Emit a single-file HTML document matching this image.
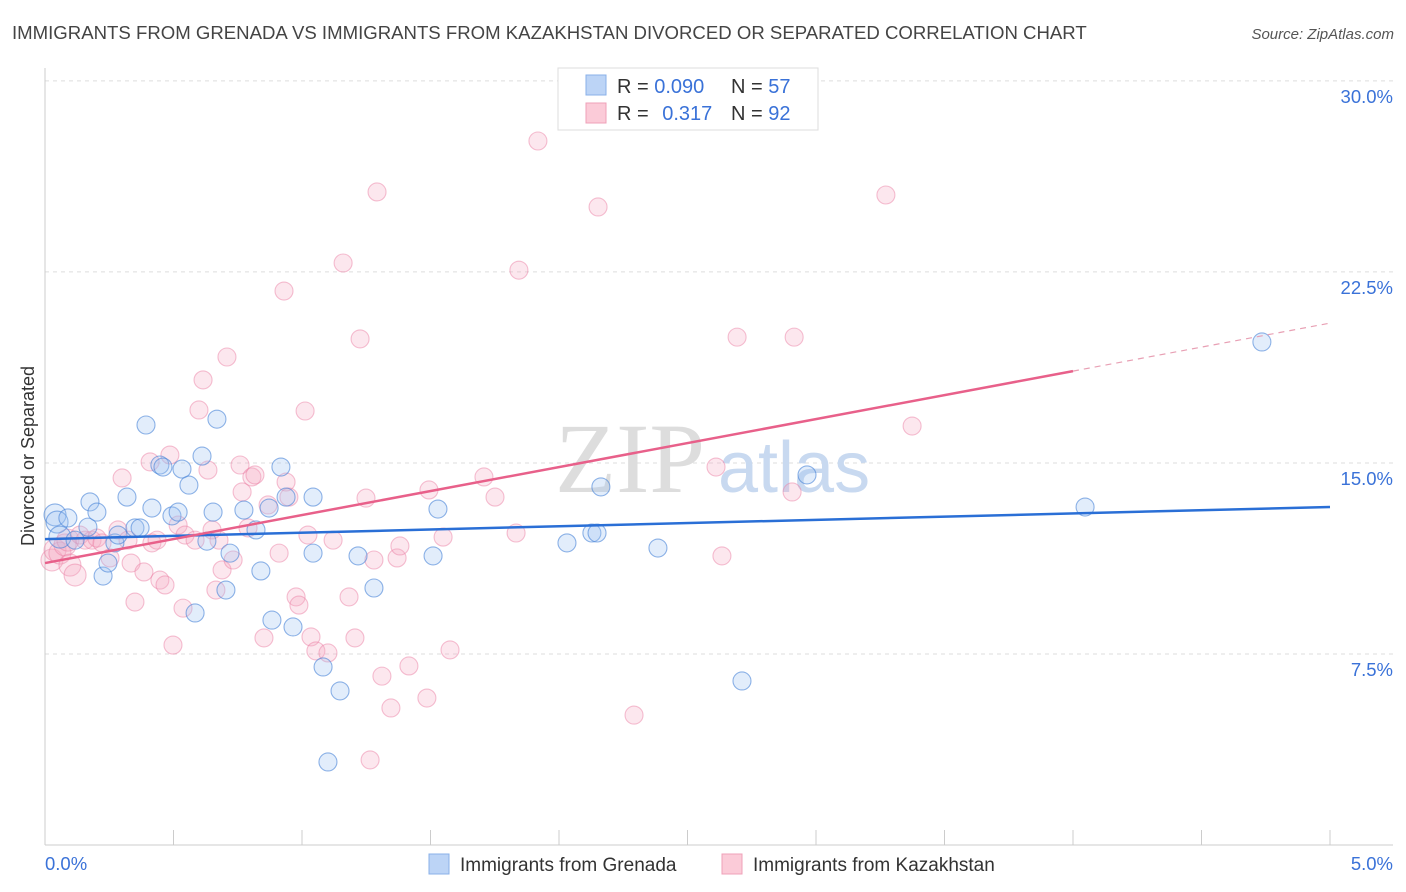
<!DOCTYPE html>
<html><head><meta charset="utf-8">
<style>
body{margin:0;background:#fff;font-family:"Liberation Sans",sans-serif;}
svg{display:block}
</style></head>
<body>
<svg id="chart" width="1406" height="892" xmlns="http://www.w3.org/2000/svg">
<text x="12" y="39" font-size="18.6" fill="#444">IMMIGRANTS FROM GRENADA VS IMMIGRANTS FROM KAZAKHSTAN DIVORCED OR SEPARATED CORRELATION CHART</text>
<text x="1394" y="39" font-size="15" fill="#555" font-style="italic" text-anchor="end">Source: ZipAtlas.com</text>
<g id="grid"></g>
<text x="555" y="492" font-size="100" font-family="Liberation Serif,serif" fill="#ddd">ZIP</text>
<text x="718" y="492" font-size="72" fill="#c8d9f0">atlas</text>
<line x1="45" y1="68" x2="45" y2="845" stroke="#ccc"/>
<line x1="45" y1="845" x2="1393" y2="845" stroke="#ccc"/>
<g id="xticks"></g>
<g id="pts"></g>
<g id="trends"></g>
<text transform="translate(34,456) rotate(-90)" font-size="18" fill="#333" text-anchor="middle">Divorced or Separated</text>
<text x="45" y="870" font-size="18.5" fill="#3a72d8">0.0%</text>
<text x="1393" y="870" font-size="18.5" fill="#3a72d8" text-anchor="end">5.0%</text>
<g>
<rect x="558" y="68" width="260" height="62" fill="#fff" stroke="#ddd"/>
<rect x="586" y="75" width="20" height="20" fill="#bcd4f6" stroke="#8ab0e8"/>
<rect x="586" y="103" width="20" height="20" fill="#fbcbd8" stroke="#efa0b8"/>
<text x="617" y="93" font-size="20" fill="#333">R = <tspan fill="#3a72d8">0.090</tspan></text>
<text x="731" y="93" font-size="20" fill="#333">N = <tspan fill="#3a72d8">57</tspan></text>
<text x="617" y="120" font-size="20" fill="#333">R = <tspan fill="#3a72d8" dx="8">0.317</tspan></text>
<text x="731" y="120" font-size="20" fill="#333">N = <tspan fill="#3a72d8">92</tspan></text>
</g>
<g>
<rect x="429" y="854" width="20" height="20" fill="#bcd4f6" stroke="#8ab0e8"/>
<text x="460" y="871" font-size="19" fill="#333">Immigrants from Grenada</text>
<rect x="722" y="854" width="20" height="20" fill="#fbcbd8" stroke="#efa0b8"/>
<text x="753" y="871" font-size="19" fill="#333">Immigrants from Kazakhstan</text>
</g>
</svg>
<script>
const yTicks=[7.5,15,22.5,30];
const yTickLabels=["7.5%","15.0%","22.5%","30.0%"];
const xTickVals=[0,0.5,1,1.5,2,2.5,3,3.5,4,4.5,5];
const grenadaX=[.039,.047,.089,.058,.117,.167,.175,.202,.226,.245,.272,.284,.319,.350,.370,.393,.416,.447,.459,.494,.518,.533,.560,.584,.611,.630,.654,.669,.704,.720,.774,.821,.840,.872,.883,.918,.938,.965,1.043,1.043,1.082,1.101,1.148,1.218,1.280,1.510,1.529,2.031,2.128,2.148,2.163,2.385,2.712,2.965,4.047,4.735];
const grenadaY=[12.96,12.68,12.84,12.09,11.97,12.48,13.47,13.07,10.56,11.07,11.86,12.17,13.66,12.45,12.45,16.49,13.23,14.92,14.84,12.92,13.07,14.76,14.13,9.11,15.27,11.93,13.07,16.72,10.01,11.46,13.15,12.37,10.76,13.23,8.83,14.84,13.66,8.56,13.66,11.46,6.99,3.26,6.05,11.35,10.09,11.35,13.19,11.86,12.25,12.25,14.06,11.66,6.44,14.53,13.27,19.75];
const kazX=[.027,.039,.058,.078,.097,.117,.089,.136,.156,.183,.202,.222,.253,.284,.300,.323,.335,.350,.385,.409,.416,.436,.447,.467,.486,.498,.518,.537,.545,.584,.599,.615,.634,.650,.665,.677,.689,.708,.732,.759,.767,.790,.805,.817,.852,.868,.911,.930,.938,.949,.977,.988,1.012,1.023,1.035,1.054,1.101,1.121,1.160,1.183,1.206,1.226,1.249,1.265,1.280,1.292,1.311,1.346,1.370,1.381,1.416,1.486,1.494,1.549,1.576,1.708,1.751,1.833,1.844,1.918,2.152,2.292,2.611,2.634,2.693,2.907,2.915,3.272,3.374];
const kazY=[11.19,11.58,11.46,11.78,10.99,10.60,11.97,12.17,11.97,11.97,12.05,11.86,11.27,12.37,14.41,11.97,11.07,9.54,10.72,15.04,11.86,11.97,10.40,10.21,15.31,7.85,12.56,9.30,12.17,11.97,17.08,18.26,14.72,12.37,10.01,11.97,10.80,19.16,11.19,14.92,13.86,12.45,14.45,14.53,8.13,13.35,11.46,21.75,14.25,13.66,9.74,9.42,17.04,12.17,8.17,7.62,7.54,11.97,22.85,9.74,8.13,19.87,13.62,3.34,11.19,25.64,6.63,5.38,11.27,11.74,7.03,5.77,13.94,12.09,7.66,14.45,13.66,12.25,22.57,27.64,25.05,5.10,14.84,11.35,19.94,13.86,19.94,25.52,16.45];
const grenadaTrend=[12.01,13.27];
const kazTrend=[11.07,20.49];
const kazSolidEnd=4.0;
const NS="http://www.w3.org/2000/svg";
const sx=v=>45+v/5*1285;
const sy=v=>845-v*25.47;
function mk(tag,attrs,parent){const e=document.createElementNS(NS,tag);for(const k in attrs)e.setAttribute(k,attrs[k]);parent.appendChild(e);return e;}
const grid=document.getElementById('grid');
yTicks.forEach((t,i)=>{
  const l=mk('line',{x1:45,x2:1393,y1:sy(t),y2:sy(t),stroke:'#ddd','stroke-dasharray':'4 4'},grid);
  
  
  const tx=mk('text',{x:1393,y:sy(t)+22,'font-size':18.5,fill:'#3a72d8','text-anchor':'end'},grid);
  tx.textContent=yTickLabels[i];
  
  
});
const xt=document.getElementById('xticks');
xTickVals.forEach(v=>{
  const l=mk('line',{x1:sx(v),x2:sx(v),y1:830,y2:845,stroke:'#ccc'},xt);
  
  
});
const pts=document.getElementById('pts');
kazX.forEach((x,i)=>{
  const c=mk('circle',{cx:sx(x),cy:sy(kazY[i]),r:(x<0.12?11:9),fill:'rgba(246,170,194,0.28)',stroke:'rgba(236,130,165,0.5)','stroke-width':1.1},pts);
  
  
});
grenadaX.forEach((x,i)=>{
  const c=mk('circle',{cx:sx(x),cy:sy(grenadaY[i]),r:(x<0.06?11:9),fill:'rgba(160,196,242,0.3)',stroke:'rgba(70,130,215,0.6)','stroke-width':1.1},pts);
  
  
});
const tr=document.getElementById('trends');
const b=mk('line',{x1:sx(0),y1:sy(grenadaTrend[0]),x2:sx(5),y2:sy(grenadaTrend[1]),stroke:'#2a6fd6','stroke-width':2.5},tr);


const ky=v=>kazTrend[0]+(kazTrend[1]-kazTrend[0])*v/5;
const p=mk('line',{x1:sx(0),y1:sy(ky(0)),x2:sx(kazSolidEnd),y2:sy(ky(kazSolidEnd)),stroke:'#e8608a','stroke-width':2.5},tr);


const pd=mk('line',{x1:sx(kazSolidEnd),y1:sy(ky(kazSolidEnd)),x2:sx(5),y2:sy(ky(5)),stroke:'#e8a0b4','stroke-width':1.2,'stroke-dasharray':'6 5'},tr);


</script>
</body></html>
